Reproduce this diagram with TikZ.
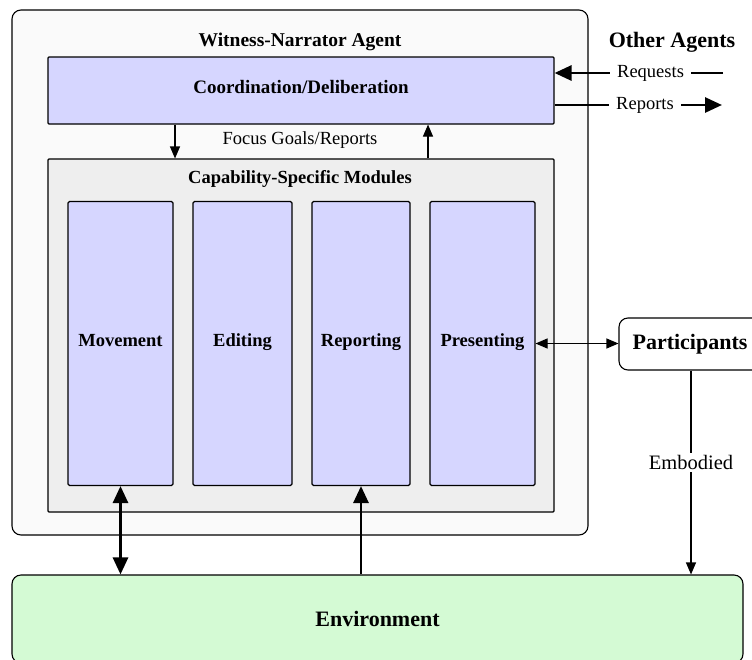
\documentclass[tikz,border=0pt]{standalone}
\usepackage{fontspec}
\setmainfont{Liberation Serif}
\usetikzlibrary{arrows.meta}

\definecolor{lavender}{RGB}{214,214,255}
\definecolor{capgray}{RGB}{238,238,238}
\definecolor{agentgray}{RGB}{250,250,250}
\definecolor{envgreen}{RGB}{212,250,212}

\newcommand{\basefont}{\fontsize{18.5}{21}\selectfont}
\newcommand{\bigbold}{\fontsize{22}{25}\selectfont\bfseries}

\tikzset{
    box/.style={draw, line width=1.1pt, inner sep=0pt},
    module/.style={box, fill=lavender, rounded corners=1.5pt, font=\basefont\bfseries, text height=1.5ex, text depth=-0.6ex},
    thinarrow/.style={line width=1.1pt, -{Triangle[length=12pt, width=10pt]}},
    bigarrow/.style={line width=2.8pt, -{Triangle[length=17pt, width=15pt]}},
    lbl/.style={fill=white, inner xsep=7pt, inner ysep=2pt}
}

\begin{document}
\begin{tikzpicture}[x=1pt, y=-1pt, font=\basefont]
                \useasboundingbox (0, 0) rectangle (752, 659);
                \clip (0, 0) rectangle (752, 659);

                % agent and its inner parts
                \node[box, fill=agentgray, rounded corners=9pt, minimum width=576, minimum height=525] (agent) at (300, 272.5) {};
                \node[font=\fontsize{19.5}{22}\selectfont\bfseries] (agenttitle) at (300, 42) {Witness-Narrator Agent};
                \node[module, rounded corners=1pt, minimum width=506, minimum height=67, font=\fontsize{19}{22}\selectfont\bfseries] (coord) at (301, 90.5) {Coordination/Deliberation};
                \node[box, fill=capgray, rounded corners=1pt, minimum width=506, minimum height=353] (cap) at (301, 335.5) {};
                \node[font=\basefont\bfseries] (captitle) at (300, 179) {Capability-Specific Modules};

                \foreach \n/\lab/\c/\w in {mov/Movement/120.5/105, edit/Editing/242.5/99, rep/Reporting/361/98, pres/Presenting/482.5/105}
                    \node[module, minimum width=\w, minimum height=284] (\n) at (\c, 343.5) {\lab};

                \draw[thinarrow] (coord.south -| 175, 0) -- (cap.north -| 175, 0);
                \draw[thinarrow] (cap.north -| 428, 0) -- (coord.south -| 428, 0);
                \node (focus) at (300, 140) {Focus Goals/Reports};

                % outside the agent
                \node[box, fill=white, rounded corners=9pt, minimum width=142, minimum height=52, font=\bigbold] (part) at (690, 344) {Participants};
                \node[box, fill=envgreen, rounded corners=9pt, minimum width=731, minimum height=88, font=\bigbold] (env) at (377.5, 619) {Environment};
                \node[font=\bigbold] (others) at (672, 42) {Other Agents};

                \coordinate (reqend) at (723, 73);
                \coordinate (repend) at (722, 105);
                \draw[bigarrow] (reqend) -- (coord.east |- reqend) node[lbl, pos=0.43] {Requests};
                \draw[bigarrow] (coord.east |- repend) -- (repend) node[lbl, pos=0.54] {Reports};

                \draw[thinarrow, {Triangle[length=12pt, width=10pt]}-{Triangle[length=12pt, width=10pt]}] (pres.east) -- (part.west |- pres.east);
                \draw[thinarrow] (part.south -| 691, 0) -- (env.north -| 691, 0) node[lbl, inner xsep=2pt, pos=0.45, font=\fontsize{20.5}{23}\selectfont] {Embodied};

                \draw[bigarrow, {Triangle[length=17pt, width=15pt]}-{Triangle[length=17pt, width=15pt]}] (mov.south) -- (mov.south |- env.north);
                \draw[bigarrow] (rep.south |- env.north) -- (rep.south);
            \end{tikzpicture}
\end{document}
